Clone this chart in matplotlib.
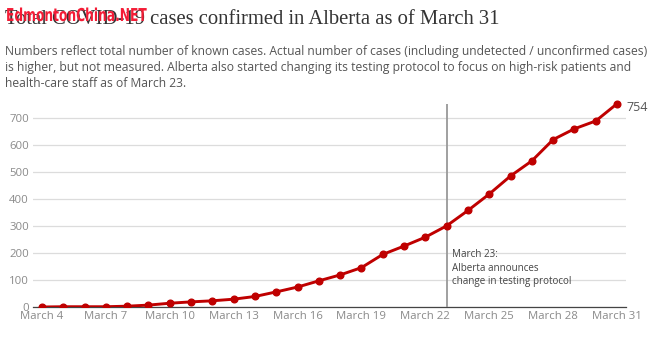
import matplotlib
matplotlib.use('Agg')
import matplotlib.pyplot as plt
from matplotlib.textpath import TextPath
from matplotlib.patches import PathPatch
from matplotlib.font_manager import FontProperties
from matplotlib.transforms import Affine2D

plt.rcParams['font.family'] = ['Open Sans', 'DejaVu Sans']

# cumulative confirmed cases, March 4 to March 31
days = list(range(4, 32))
cases = [0, 1, 1, 1, 3, 7, 14, 19, 23, 29, 39, 56, 74, 97, 119,
         146, 195, 226, 259, 301, 358, 419, 486, 542, 621, 661, 690, 754]
tick_days = list(range(4, 32, 3))
tick_labels = [f'March {d}' for d in tick_days]
y_ticks = [0, 100, 200, 300, 400, 500, 600, 700]
change_day = 23

DPI = 100
fig = plt.figure(figsize=(6.7, 3.46), dpi=DPI)
ax = fig.add_axes([33 / 670, 1 - 307 / 346, 593 / 670, 0.6])

ax.plot(days, cases, color='#bf0000', lw=2.1, marker='o', ms=4.8, zorder=4,
        solid_joinstyle='round')
ax.vlines(change_day, 0, max(cases), color='#999999', lw=1.3, zorder=3)
ax.text(change_day + 0.25, 214, 'March 23:\nAlberta announces\nchange in testing protocol',
        fontsize=7.1, color='#444444', va='top', ha='left', linespacing=1.29)
ax.annotate(str(cases[-1]), (days[-1], cases[-1]), xytext=(7, -3),
            textcoords='offset points', fontsize=9, color='#555555',
            va='center', ha='left')

ax.set_xlim(days[0] - 0.42, days[-1] + 0.42)
ax.set_ylim(0, 770)
ax.set_xticks(tick_days)
ax.set_xticklabels(tick_labels)
ax.set_yticks(y_ticks)
ax.tick_params(length=0, labelsize=8.2, labelcolor='#8a8a8a', pad=3)
ax.grid(axis='y', color='#dcdcdc', lw=0.9)
ax.set_axisbelow(True)
for s in ['top', 'right', 'left']:
    ax.spines[s].set_visible(False)
ax.spines['bottom'].set_color('#444444')
ax.spines['bottom'].set_linewidth(0.9)

fig.text(5 / 670, 1 - 19 / 346, 'Total COVID-19 cases confirmed in Alberta as of March 31',
         family='Liberation Serif', fontsize=14.9, color='#333333', va='center')

# condensed red site stamp over the title
stamp = TextPath((0, 0), 'EdmontonChina.NET', size=12.8,
                 prop=FontProperties(family='DejaVu Sans Condensed', weight='bold'))
px = DPI / 72
stamp_tf = Affine2D().scale(0.69 * px, px).translate(6, 346 - 21)
fig.add_artist(PathPatch(stamp, transform=stamp_tf, facecolor='#f41c36',
                         edgecolor='none', zorder=10))

fig.text(5 / 670, 1 - 45 / 346,
         'Numbers reflect total number of known cases. Actual number of cases (including undetected / unconfirmed cases)\n'
         'is higher, but not measured. Alberta also started changing its testing protocol to focus on high-risk patients and\n'
         'health-care staff as of March 23.',
         fontsize=8.75, color='#555555', va='top', linespacing=1.3)

fig.savefig('out.png', dpi=DPI)
